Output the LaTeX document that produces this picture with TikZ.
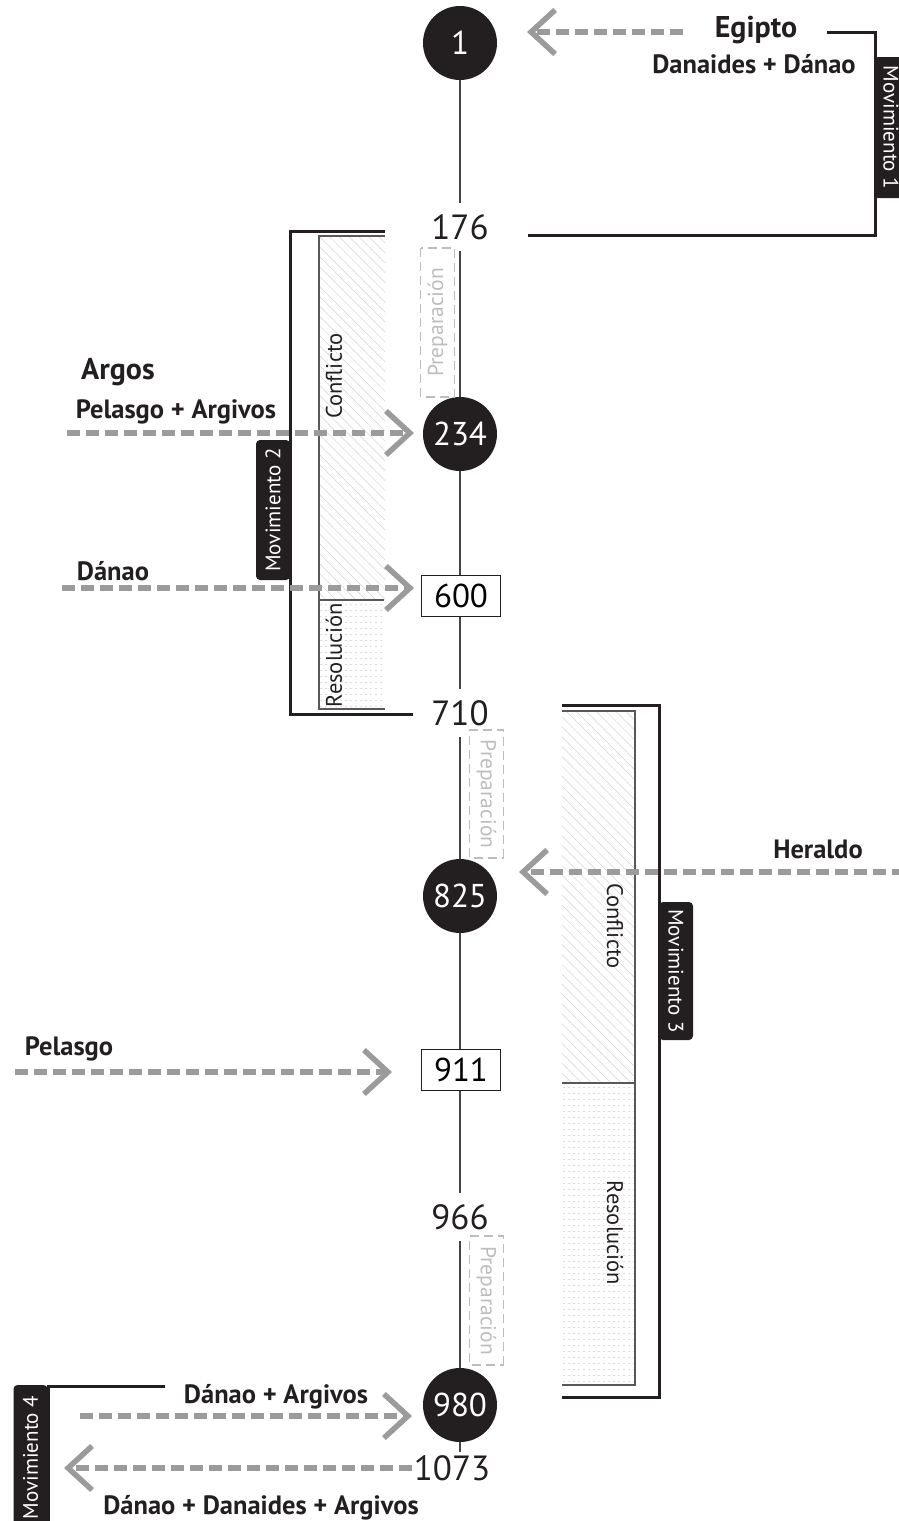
\documentclass[tikz,border=0pt]{standalone}
\usepackage{fontspec}
\setmainfont{PT Sans}
\usetikzlibrary{arrows.meta,patterns.meta}

\definecolor{ink}{HTML}{231F20}
\definecolor{axisgray}{HTML}{444444}
\definecolor{dashgray}{HTML}{9B9B9B}
\definecolor{prepgray}{HTML}{BDBDBD}
\definecolor{hatchgray}{HTML}{D2D2D2}
\definecolor{dotgray}{HTML}{DEDEDE}

\begin{document}
\begin{tikzpicture}[x=1pt,y=-1pt,
  event/.style={circle, fill=ink, minimum size=74pt, inner sep=0pt,
    text=white, font=\fontsize{33}{33}\selectfont},
  scene/.style={draw=ink, line width=1.4pt, fill=white, minimum width=79pt,
    minimum height=41pt, inner sep=0pt, font=\fontsize{33}{33}\selectfont},
  verse/.style={inner xsep=4pt, inner ysep=11pt, font=\fontsize{35}{35}\selectfont, text=ink},
  axisline/.style={draw=axisgray, line width=1.5pt},
  entry/.style={draw=dashgray, line width=5.5pt, dash pattern=on 13pt off 6pt,
    -{Straight Barb[length=24pt,width=44pt]}},
  bracket/.style={draw=ink, line width=3pt},
  phase/.style={draw=ink!75, line width=1.3pt},
  movlabel/.style={fill=ink, text=white, rounded corners=4pt, inner sep=0pt,
    minimum height=34pt, font=\fontsize{21}{21}\selectfont},
  prepbox/.style={draw=prepgray, line width=1.3pt, dash pattern=on 9pt off 5pt,
    text=prepgray, minimum height=34pt, inner sep=0pt, font=\fontsize{21.5}{21.5}\selectfont},
  phaselabel/.style={text=ink, inner sep=0pt, font=\fontsize{22.5}{22.5}\selectfont},
  head/.style={anchor=base, text=ink, inner sep=0pt, font=\bfseries\fontsize{30}{30}\selectfont},
  sub/.style={anchor=base, text=ink, inner sep=0pt, font=\bfseries\fontsize{26.5}{26.5}\selectfont},
  conflictfill/.style={pattern={Lines[angle=-45,distance=7pt,line width=0.5pt]}, pattern color=hatchgray},
]
\useasboundingbox (0,0) rectangle (899,1521);

% ---------- shaded phase areas ----------
\fill[conflictfill] (319,236) rectangle (385,600);
\fill[conflictfill] (562,711) rectangle (635,1083);
\foreach \yy in {604,610,...,706}
  \draw[dotgray, line width=0.6pt, dash pattern=on 2pt off 3pt] (320,\yy) -- (385,\yy);
\foreach \yy in {1087,1093,...,1382}
  \draw[dotgray, line width=0.6pt, dash pattern=on 2pt off 3pt] (563,\yy) -- (634,\yy);

% ---------- events on the timeline ----------
\node[event] (n1)   at (460,43)   {1};
\node[verse] (n176) at (460,227)  {176};
\node[event] (n234) at (460,434)  {234};
\node[scene] (n600) at (461,596)  {600};
\node[verse] (n710) at (460,713)  {710};
\node[event] (n825) at (460,896)  {825};
\node[scene] (n911) at (461,1070) {911};
\node[verse] (n966) at (460,1217) {966};
\node[event] (n980) at (460,1405) {980};
\node[verse, inner ysep=3pt, inner xsep=2pt] (n1073) at (452,1468) {1073};

\draw[axisline] (n1) -- (n176) -- (n234) -- (n234 |- n600.north);
\draw[axisline] (n234 |- n600.south) -- (n710) -- (n825) -- (n825 |- n911.north);
\draw[axisline] (n825 |- n911.south) -- (n966) -- (n980);
\draw[axisline] (n980.south) -- (n980.south |- n1073.north);

% ---------- preparation boxes ----------
\node[prepbox, rotate=90,  minimum width=149pt] (prep1) at (437.5,322.5) {Preparación};
\node[prepbox, rotate=-90, minimum width=128pt] (prep2) at (486.5,794)   {Preparación};
\node[prepbox, rotate=-90, minimum width=129pt] (prep3) at (486.5,1300.5) {Preparación};

% ---------- movement 1 ----------
\coordinate (m1a) at (827,32);
\coordinate (m1b) at (875,32);
\coordinate (m1c) at (875,235);
\coordinate (m1d) at (528,235);
\draw[bracket] (m1a) -- (m1b) -- (m1c) -- (m1d);
\node[movlabel, rotate=-90, minimum width=141pt] (mov1) at (891,127.5) {Movimiento 1};

% ---------- movement 2 ----------
\coordinate (m2a) at (385,231);
\coordinate (m2b) at (290,231);
\coordinate (m2c) at (290,714);
\coordinate (m2d) at (413,714);
\draw[bracket] (m2a) -- (m2b) -- (m2c) -- (m2d);
\draw[phase] (385,236) -- (319,236) -- (319,709) -- (385,709);
\draw[phase] (319,600) -- (384,600);
\node[movlabel, rotate=90, minimum width=140pt] (mov2) at (273,510) {Movimiento 2};
\node[phaselabel, rotate=90] (conf2) at (334,376) {Conflicto};
\node[phaselabel, rotate=90] (reso2) at (334,655) {Resolución};

% ---------- movement 3 ----------
\coordinate (m3a) at (562,705);
\coordinate (m3b) at (659,705);
\coordinate (m3c) at (659,1397);
\coordinate (m3d) at (562,1397);
\draw[bracket] (m3a) -- (m3b) -- (m3c) -- (m3d);
\draw[phase] (562,711) -- (635,711) -- (635,1385) -- (562,1385);
\draw[phase] (562,1083) -- (635,1083);
\node[movlabel, rotate=-90, minimum width=138pt] (mov3) at (676,971) {Movimiento 3};
\node[phaselabel, rotate=-90] (conf3) at (615,926) {Conflicto};
\node[phaselabel, rotate=-90] (reso3) at (615,1233) {Resolución};

% ---------- movement 4 ----------
\coordinate (m4a) at (165,1386);
\coordinate (m4b) at (48,1386);
\coordinate (m4c) at (48,1530);
\draw[bracket] (m4a) -- (m4b) -- (m4c);
\node[movlabel, rotate=90, minimum width=145pt] (mov4) at (30.5,1457.5) {Movimiento 4};

% ---------- entrances and exits ----------
\coordinate (eg0) at (683,32);   \coordinate (egtip) at (527,32);
\draw[entry] (eg0) -- (egtip);
\node[head] (egipto) at (756,37) {Egipto};
\node[sub] (danaides) at (754,73) {Danaides + Dánao};

\coordinate (pa0) at (67,433);   \coordinate (patip) at (414,433);
\draw[entry] (pa0) -- (patip);
\node[head] (argos) at (118,379) {Argos};
\node[sub] (pelargivos) at (176,418) {Pelasgo + Argivos};

\coordinate (da0) at (62,588);   \coordinate (datip) at (414,588);
\draw[entry] (da0) -- (datip);
\node[sub] (danao) at (113,580) {Dánao};

\coordinate (he0) at (905,872);  \coordinate (hetip) at (519,872);
\draw[entry] (he0) -- (hetip);
\node[sub] (heraldo) at (818,858) {Heraldo};

\coordinate (pe0) at (15,1072);  \coordinate (petip) at (392,1072);
\draw[entry] (pe0) -- (petip);
\node[sub] (pelasgo) at (69,1055) {Pelasgo};

\coordinate (dar0) at (80,1416); \coordinate (dartip) at (412,1416);
\draw[entry] (dar0) -- (dartip);
\node[sub] (danargivos) at (276,1403) {Dánao + Argivos};

\coordinate (extip) at (64,1468);
\draw[entry] (n1073.west) -- (extip);
\node[sub] (todos) at (261,1514) {Dánao + Danaides + Argivos};
\end{tikzpicture}
\end{document}
